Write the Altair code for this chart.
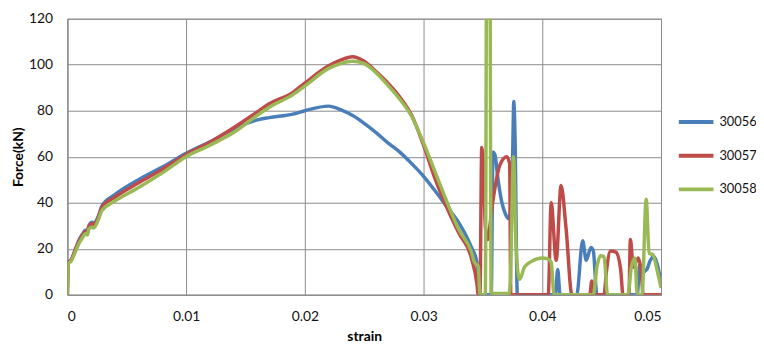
import altair as alt
import pandas as pd

series_names = ["30056", "30057", "30058"]
series_colors = ["#4A7EBB", "#BE4B48", "#98B954"]

x_ticks = [0, 0.01, 0.02, 0.03, 0.04, 0.05]
y_ticks = [0, 20, 40, 60, 80, 100, 120]

x_b = [0, 0.00008, 0.0003, 0.0007, 0.001, 0.0013, 0.0015, 0.0017, 0.0018, 0.0021, 0.0022, 0.0026, 0.0029,
       0.004, 0.006, 0.008, 0.01, 0.012, 0.014, 0.016, 0.017, 0.019, 0.02, 0.022, 0.023, 0.024, 0.025, 0.026,
       0.027, 0.028, 0.029, 0.03, 0.031, 0.032, 0.033, 0.034, 0.0345, 0.03465, 0.0357, 0.03585, 0.036,
       0.0363, 0.0366, 0.0369, 0.0372, 0.0375, 0.0376, 0.0377, 0.0379, 0.0411, 0.0413, 0.0415, 0.0429,
       0.0434, 0.0437, 0.0441, 0.0443, 0.0446, 0.0480, 0.0482, 0.0485, 0.0488, 0.0491, 0.0494, 0.0497, 0.0500]
y_b = [0, 14, 15, 20, 24, 26.5, 28, 27.5, 30, 31.5, 31, 34, 38.5,
       43.5, 50, 55.5, 61.5, 66.5, 72, 76, 77, 78.5, 80, 82, 80.5, 78, 74.5, 70.5,
       66, 62, 57, 51.5, 45, 38, 31, 21, 14, 0, 0, 62, 61,
       49, 40, 35, 33, 60, 84, 70, 0, 0, 11, 0, 0,
       23.5, 15, 20.5, 19, 0, 0, 13, 10, 11, 15, 16.5, 13, 5]

x_r = [0, 0.00008, 0.0003, 0.0007, 0.001, 0.0013, 0.0015, 0.0017, 0.0018, 0.0021, 0.0022, 0.0026, 0.0029,
       0.004, 0.006, 0.008, 0.01, 0.012, 0.014, 0.016, 0.017, 0.019, 0.02, 0.022, 0.023, 0.024, 0.025, 0.026,
       0.027, 0.028, 0.029, 0.03, 0.031, 0.032, 0.033, 0.034, 0.0345, 0.0346, 0.03475, 0.0349, 0.03505,
       0.0352, 0.0354, 0.03575, 0.036, 0.0364, 0.0370, 0.03725, 0.03735, 0.0405, 0.04075, 0.04117, 0.04158,
       0.042, 0.0425, 0.0440, 0.04417, 0.0443, 0.0452, 0.0454, 0.04575, 0.0462, 0.0466, 0.0468, 0.0473,
       0.04742, 0.04767, 0.04808, 0.04833, 0.0485, 0.05]
y_r = [0, 14, 15, 20, 23.5, 26, 27.5, 27, 29.5, 31, 30.5, 33.5, 38,
       42.4, 48.7, 54.5, 61, 66.3, 72.6, 79.5, 83, 88, 92, 99.5, 102, 103.5, 101.5, 97,
       92, 86, 78, 65, 50, 37.5, 26.5, 16.5, 4.5, 0, 0, 64, 55,
       30, 24, 37.5, 46, 56, 60, 57, 0, 0, 40, 15, 47.5,
       29, 0, 0, 6, 0, 0, 10, 19, 18.5, 11, 0, 0,
       24, 12, 16, 10, 0, 0]

x_g = [0, 0.00008, 0.0003, 0.0007, 0.001, 0.0013, 0.0015, 0.0017, 0.0018, 0.0021, 0.0022, 0.0026, 0.0029,
       0.004, 0.006, 0.008, 0.01, 0.012, 0.014, 0.016, 0.017, 0.019, 0.02, 0.022, 0.023, 0.024, 0.025, 0.026,
       0.027, 0.028, 0.029, 0.03, 0.031, 0.032, 0.033, 0.034, 0.0343, 0.0346, 0.03475, 0.0352, 0.03535,
       0.03555, 0.0357, 0.0359, 0.0372, 0.0373, 0.03758, 0.0378, 0.03808, 0.0385, 0.0391, 0.0400, 0.0405,
       0.04075, 0.0410, 0.0443, 0.0446, 0.0449, 0.0452, 0.0455, 0.0472, 0.0475, 0.0478, 0.0480, 0.0484,
       0.04875, 0.0490, 0.0493, 0.0497, 0.05]
y_g = [0, 13.5, 14.5, 19, 22.5, 25, 26.5, 26, 28.5, 29.5, 29, 32.5, 36.5,
       40.7, 46.6, 53, 60, 65, 70.5, 78, 81.5, 87, 90.7, 98.4, 100.5, 101.5, 100.5, 96.5,
       91, 85, 77.5, 66, 53, 40, 28, 19, 14, 12.5, 0, 0, 200,
       200, 0.5, 0.5, 0.5, 5, 60, 20, 6.7, 12, 14.5, 16, 15.5,
       14, 0, 0, 12, 17, 16.5, 0, 0, 12, 16, 0, 0,
       41.5, 18, 17.5, 10, 3]

rows = []
for name, xs, ys in zip(series_names, [x_b, x_r, x_g], [y_b, y_r, y_g]):
    for xv, yv in zip(xs, ys):
        rows.append({"series": name, "strain": xv, "force": yv})
df = pd.DataFrame(rows)

FONT = "Lato"

chart = alt.Chart(df).mark_line(clip=True, interpolate="monotone", strokeWidth=3.5).encode(
    x=alt.X("strain:Q",
            scale=alt.Scale(domain=[0, 0.05], nice=False, zero=False),
            axis=alt.Axis(values=x_ticks, title="strain",
                          labelExpr="datum.value == 0 ? '0' : format(datum.value, '.2f')",
                          labelPadding=15, titlePadding=6)),
    y=alt.Y("force:Q",
            scale=alt.Scale(domain=[0, 120], nice=False),
            axis=alt.Axis(values=y_ticks, title="Force(kN)", labelPadding=15, titlePadding=3)),
    color=alt.Color("series:N",
                    scale=alt.Scale(domain=series_names, range=series_colors),
                    legend=alt.Legend(title=None, orient="none", legendX=616, legendY=85,
                                      symbolType="stroke", symbolSize=1225, symbolStrokeWidth=4,
                                      labelFont=FONT, labelFontSize=13, labelColor="#111111",
                                      rowPadding=6, labelOffset=4)),
).properties(
    width=600, height=279,
    autosize=alt.AutoSizeParams(type="none"),
    padding={"left": 60, "top": 9, "right": 96, "bottom": 52},
).configure_axis(
    grid=True, gridColor="#8C8C8C", gridWidth=1,
    domainColor="#8C8C8C", domainWidth=1, ticks=False,
    labelFont=FONT, labelFontSize=14, labelColor="#111111",
    titleFont=FONT, titleFontSize=14, titleFontWeight="bold", titleColor="#000000",
).configure_view(stroke="#8C8C8C", strokeWidth=1)

chart.save("out.html", embed_options={"renderer": "svg", "actions": False})
